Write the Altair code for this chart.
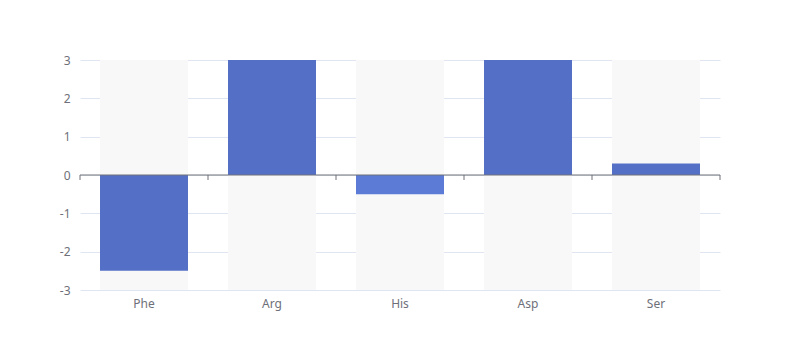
import altair as alt
import pandas as pd

categories = ["Phe", "Arg", "His", "Asp", "Ser"]
values = [-2.5, 3.0, -0.5, 3.0, 0.3]
y_ticks = [-3, -2, -1, 0, 1, 2, 3]

df = pd.DataFrame({"cat": categories, "val": values, "lo": [-3] * 5, "hi": [3] * 5})

FONT = "Noto Sans"
GRAY = "#6e7079"

xscale = alt.Scale(domain=categories, paddingInner=0.3125, paddingOuter=0.15625)
yscale = alt.Scale(domain=[-3, 3], nice=False, zero=False)

yaxis = alt.Axis(values=y_ticks, domain=False, ticks=False,
                 labelOverlap=False, labelFlush=False,
                 labelExpr="datum.value + ''",
                 gridColor="#e0e6f1", labelColor=GRAY, labelFont=FONT,
                 labelFontSize=12, labelPadding=10)
xaxis = alt.Axis(labelAngle=0, domain=False, ticks=False, labelColor=GRAY,
                 labelFont=FONT, labelFontSize=12, labelPadding=8)

base = alt.Chart(df)

bg = base.mark_bar(color="#f8f8f8").encode(
    x=alt.X("cat:N", scale=xscale, sort=categories, title=None, axis=xaxis),
    y=alt.Y("lo:Q", scale=yscale, title=None, axis=yaxis),
    y2="hi:Q",
)

bars = base.mark_bar().encode(
    x=alt.X("cat:N", scale=xscale, sort=categories, title=None, axis=xaxis),
    y=alt.Y("val:Q", scale=yscale, title=None, axis=yaxis),
    y2=alt.datum(0),
    color=alt.condition(alt.datum.cat == "His", alt.value("#5b7bd6"), alt.value("#5470c6")),
)

zero = alt.Chart(pd.DataFrame({"z": [0]})).mark_rule(color=GRAY, strokeWidth=1).encode(
    y=alt.Y("z:Q", scale=yscale, title=None, axis=yaxis),
)

ticks_a = base.mark_rule(color=GRAY, xOffset=-20).encode(
    x=alt.X("cat:N", scale=xscale, sort=categories, bandPosition=0, title=None, axis=xaxis),
    y=alt.value(115),
    y2=alt.value(120),
)

tick_data = pd.DataFrame({"cat": ["Ser"]})
ticks_b = alt.Chart(tick_data).mark_rule(color=GRAY, xOffset=20).encode(
    x=alt.X("cat:N", scale=xscale, sort=categories, bandPosition=1, title=None, axis=xaxis),
    y=alt.value(115),
    y2=alt.value(120),
)

chart = alt.layer(bg, bars, zero, ticks_a, ticks_b).properties(
    width=640, height=230,
    autosize=alt.AutoSizeParams(type="none"),
    padding={"left": 72, "top": 52, "right": 72, "bottom": 62},
    background="white",
).configure_view(stroke=None)

chart.save("out.html", embed_options={"renderer": "svg", "actions": False})
